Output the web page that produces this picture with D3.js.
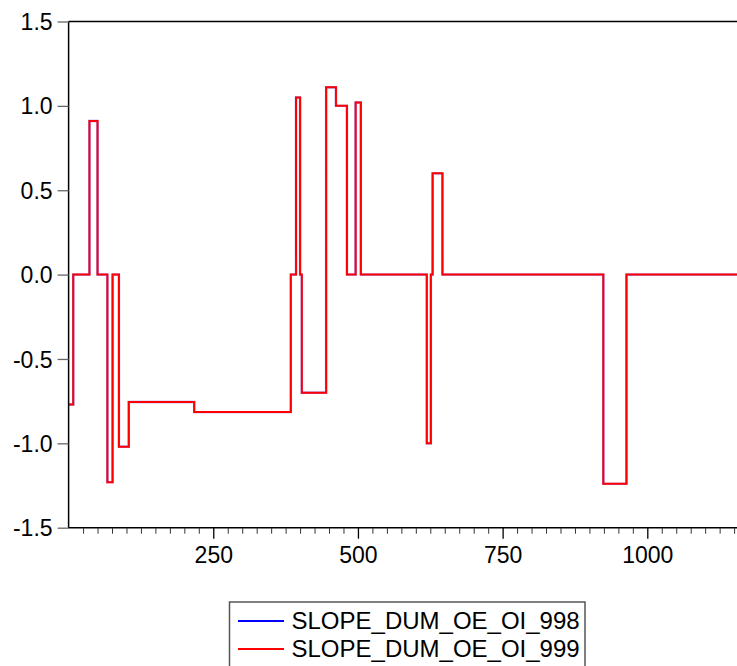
<!DOCTYPE html>
<html>
<head>
<meta charset="utf-8">
<script src="https://cdn.jsdelivr.net/npm/d3@7"></script>
<style>
  html, body { margin: 0; padding: 0; background: #fff; }
  svg { display: block; }
  text { font-family: "Liberation Sans", Arial, sans-serif; fill: #000; }
</style>
</head>
<body>
<svg id="chart" width="737" height="666"></svg>
<script>
// ---- data (observation where each level starts, and the level) ----
const breaks998 = [1, 8, 36, 50, 67, 76, 87, 104, 217, 384, 393, 400, 403, 445, 462, 481, 496, 505, 619, 626, 629, 646, 924, 964];
const levels998 = [-0.77, 0, 0.91, 0, -1.23, 0, -1.02, -0.755, -0.815, 0, 1.05, 0, -0.70, 1.11, 1.0, 0, 1.02, 0, -1.0, 0, 0.6, 0, -1.24, 0];
const breaks999 = [1, 8, 36, 50, 67, 76, 87, 104, 217, 384, 393, 400, 403, 445, 462, 481, 496, 505, 619, 626, 629, 646, 924, 964];
const levels999 = [-0.77, 0, 0.91, 0, -1.23, 0, -1.02, -0.755, -0.815, 0, 1.05, 0, -0.70, 1.11, 1.0, 0, 1.02, 0, -1.0, 0, 0.6, 0, -1.24, 0];
const lastObs = 1160;
const seriesNames = ["SLOPE_DUM_OE_OI_998", "SLOPE_DUM_OE_OI_999"];
const seriesColors = ["#0000FF", "#FF0000"];
const xTickValues = [250, 500, 750, 1000];
const yTickValues = [-1.5, -1.0, -0.5, 0.0, 0.5, 1.0, 1.5];

const svg = d3.select("#chart");
const pLeft = 68.6, pRight = 737, pTop = 21.5, pBottom = 527.7;

const x = d3.scaleLinear().domain([0, 1155]).range([pLeft, pRight]);
const y = d3.scaleLinear().domain([-1.5, 1.5]).range([pBottom, pTop]);

function toPoints(br, lv) {
  const pts = br.map((b, i) => ({ x: b, y: lv[i] }));
  pts.push({ x: lastObs, y: lv[lv.length - 1] });
  return pts;
}

svg.append("defs").append("clipPath").attr("id", "clip")
  .append("rect").attr("x", pLeft).attr("y", pTop - 5).attr("width", pRight - pLeft).attr("height", pBottom - pTop + 10);

const line = d3.line().x(d => x(d.x)).y(d => y(d.y)).curve(d3.curveStepAfter);

const series = [toPoints(breaks998, levels998), toPoints(breaks999, levels999)];
series.forEach((s, i) => {
  svg.append("path")
    .datum(s)
    .attr("clip-path", "url(#clip)")
    .attr("fill", "none")
    .attr("stroke", seriesColors[i])
    .attr("stroke-width", i === 0 ? 2.4 : 2)
    .attr("stroke-opacity", i === 0 ? 0.45 : 1)
    .attr("d", line);
});

// frame: top line
svg.append("line").attr("x1", pLeft).attr("x2", pRight).attr("y1", pTop).attr("y2", pTop)
  .attr("stroke", "#000").attr("stroke-width", 1.5);

// y axis
const fmtY = v => d3.format(".1f")(v).replace("\u2212", "-");
const yAxis = d3.axisLeft(y).tickValues(yTickValues).tickFormat(fmtY).tickSize(11).tickPadding(5);
const gy = svg.append("g").attr("transform", `translate(${pLeft},0)`).call(yAxis);
gy.select(".domain").attr("stroke", "#000").attr("stroke-width", 1.5).attr("d", `M0,${pTop}V${pBottom}`);
gy.selectAll(".tick line").attr("stroke", "#666").attr("stroke-width", 1.3);
gy.selectAll(".tick text").style("font-size", "23px").attr("dy", "0.35em");

// x axis (major)
const xAxis = d3.axisBottom(x).tickValues(xTickValues).tickFormat(d3.format("d")).tickSize(11).tickPadding(8);
const gx = svg.append("g").attr("transform", `translate(0,${pBottom})`).call(xAxis);
gx.select(".domain").attr("stroke", "#000").attr("stroke-width", 1.5).attr("d", `M${pLeft},0H${pRight}`);
gx.selectAll(".tick line").attr("stroke", "#000").attr("stroke-width", 1.3);
gx.selectAll(".tick text").style("font-size", "23px");

// x minor ticks
const minor = d3.range(25, 1155, 25).filter(v => v % 250 !== 0);
const gxm = svg.append("g").attr("transform", `translate(0,${pBottom})`)
  .call(d3.axisBottom(x).tickValues(minor).tickSize(6).tickFormat(""));
gxm.select(".domain").remove();
gxm.selectAll(".tick line").attr("stroke", "#333").attr("stroke-width", 1);

// legend
const lg = svg.append("g");
lg.append("rect").attr("x", 229.5).attr("y", 602).attr("width", 355.5).attr("height", 80)
  .attr("fill", "#fff").attr("stroke", "#555").attr("stroke-width", 1.5);
seriesNames.forEach((name, i) => {
  const ly = 621 + i * 28;
  lg.append("line").attr("x1", 238).attr("x2", 284).attr("y1", ly).attr("y2", ly)
    .attr("stroke", seriesColors[i]).attr("stroke-width", 2);
  lg.append("text").attr("x", 291.5).attr("y", ly).attr("dy", "0.35em")
    .style("font-size", "24px").text(name);
});
</script>
</body>
</html>
